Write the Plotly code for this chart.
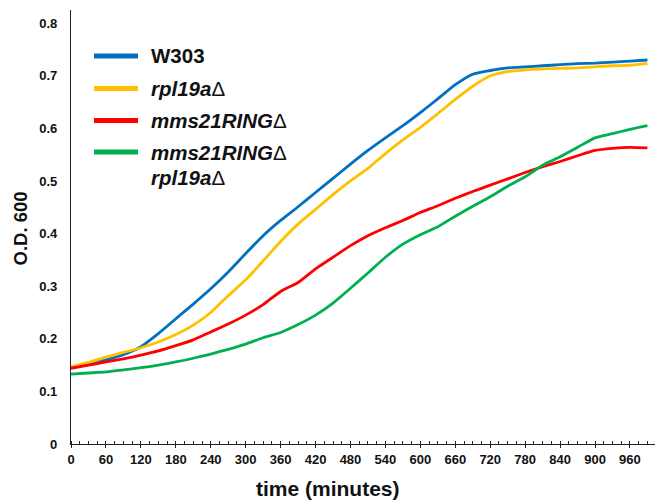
import plotly.graph_objects as go

time_min = [0, 30, 60, 90, 120, 150, 180, 210, 240, 270, 300, 330, 360, 390, 420,
            450, 480, 510, 540, 570, 600, 630, 660, 690, 720, 750, 780, 810, 840,
            870, 900, 930, 960, 990]

w303 = [0.146, 0.152, 0.160, 0.170, 0.185, 0.210, 0.238, 0.266, 0.295, 0.327,
        0.362, 0.396, 0.425, 0.451, 0.478, 0.505, 0.532, 0.558, 0.582, 0.605,
        0.630, 0.656, 0.683, 0.703, 0.710, 0.715, 0.717, 0.719, 0.721, 0.723,
        0.724, 0.726, 0.728, 0.730]

rpl19a = [0.147, 0.155, 0.165, 0.174, 0.183, 0.194, 0.208, 0.226, 0.250, 0.282,
          0.312, 0.348, 0.385, 0.418, 0.446, 0.474, 0.500, 0.524, 0.552, 0.578,
          0.602, 0.628, 0.655, 0.680, 0.700, 0.708, 0.711, 0.713, 0.714, 0.715,
          0.717, 0.719, 0.720, 0.723]

mms21ring = [0.144, 0.150, 0.156, 0.162, 0.169, 0.177, 0.187, 0.198, 0.213, 0.228,
             0.245, 0.265, 0.290, 0.307, 0.333, 0.355, 0.377, 0.396, 0.411, 0.425,
             0.440, 0.453, 0.467, 0.480, 0.492, 0.504, 0.516, 0.527, 0.537, 0.548,
             0.558, 0.562, 0.564, 0.563]

double_mut = [0.133, 0.135, 0.137, 0.141, 0.145, 0.150, 0.156, 0.163, 0.171, 0.180,
              0.190, 0.202, 0.212, 0.227, 0.245, 0.268, 0.296, 0.325, 0.355, 0.380,
              0.398, 0.413, 0.433, 0.452, 0.470, 0.490, 0.508, 0.530, 0.546, 0.564,
              0.582, 0.590, 0.598, 0.605]

x_ticks = list(range(0, 961, 60))
y_ticks = [0, 0.1, 0.2, 0.3, 0.4, 0.5, 0.6, 0.7, 0.8]
y_tick_labels = ["0", "0.1", "0.2", "0.3", "0.4", "0.5", "0.6", "0.7", "0.8"]

series = [
    ("W303", w303, "#0070C0"),
    ("rpl19a\u0394", rpl19a, "#FFC000"),
    ("mms21RING\u0394", mms21ring, "#FF0000"),
    ("mms21RING\u0394 rpl19a\u0394", double_mut, "#00B050"),
]

FONT = "Arial, Liberation Sans, sans-serif"

fig = go.Figure()
for name, vals, col in series:
    fig.add_trace(go.Scatter(x=time_min, y=vals, mode="lines", name=name,
                             line=dict(color=col, width=2.8, shape="spline", smoothing=0.6),
                             showlegend=False))

W, H = 656, 501
ml, mr, mt, mb = 71, 1, 10, 57
pw, ph = W - ml - mr, H - mt - mb

def px(x):
    return (x - ml) / pw

def py(y):
    return (H - mb - y) / ph

# Manual legend
legend_rows = [
    (56, "#0070C0", ["<b>W303</b>"]),
    (88.5, "#FFC000", ["<b><i>rpl19a</i></b>\u0394"]),
    (120.5, "#FF0000", ["<b><i>mms21RING</i></b>\u0394"]),
    (152, "#00B050", ["<b><i>mms21RING</i></b>\u0394", "<b><i>rpl19a</i></b>\u0394"]),
]
shapes = []
annotations = []
for yy, col, texts in legend_rows:
    shapes.append(dict(type="line", xref="paper", yref="paper",
                       x0=px(94), x1=px(138), y0=py(yy), y1=py(yy),
                       line=dict(color=col, width=5)))
    for i, t in enumerate(texts):
        annotations.append(dict(xref="paper", yref="paper", x=px(149), y=py(yy + i * 25.5),
                                xanchor="left", yanchor="middle", showarrow=False,
                                text=t, font=dict(family=FONT, size=20.5, color="#111")))

# Axis titles
annotations.append(dict(xref="paper", yref="paper", x=px(328), y=py(488),
                        xanchor="center", yanchor="middle", showarrow=False,
                        text="<b>time (minutes)</b>",
                        font=dict(family=FONT, size=21, color="#111")))
annotations.append(dict(xref="paper", yref="paper", x=px(19.5), y=py(229),
                        xanchor="center", yanchor="middle", showarrow=False,
                        textangle=-90, text="<b>O.D. 600</b>",
                        font=dict(family=FONT, size=18.5, color="#111")))

fig.update_layout(
    width=W, height=H,
    margin=dict(l=ml, r=mr, t=mt, b=mb, pad=0),
    paper_bgcolor="white", plot_bgcolor="white",
    font=dict(family=FONT, color="#111"),
    shapes=shapes, annotations=annotations,
    xaxis=dict(range=[0, 1003], tickvals=x_ticks, ticktext=[f"<b>{v}</b>" for v in x_ticks],
               showgrid=False, zeroline=False, showline=True, linecolor="#222", linewidth=1.3,
               ticks="outside", ticklen=3, tickwidth=1.3, tickcolor="#222",
               tickfont=dict(family=FONT, size=13, color="#111"),
               minor=dict(dtick=15, tick0=0, ticks="inside", ticklen=3, tickwidth=1, tickcolor="#222",
                          showgrid=False)),
    yaxis=dict(range=[0, 0.825], tickvals=y_ticks, ticktext=[f"<b>{t}</b>" for t in y_tick_labels],
               showgrid=False, zeroline=False, showline=True, linecolor="#222", linewidth=1.3,
               ticks="", ticklabelstandoff=10,
               tickfont=dict(family=FONT, size=13, color="#111")),
)

fig.write_html("out.html", config={"displayModeBar": False},
               post_script="document.body.style.margin='0';")
